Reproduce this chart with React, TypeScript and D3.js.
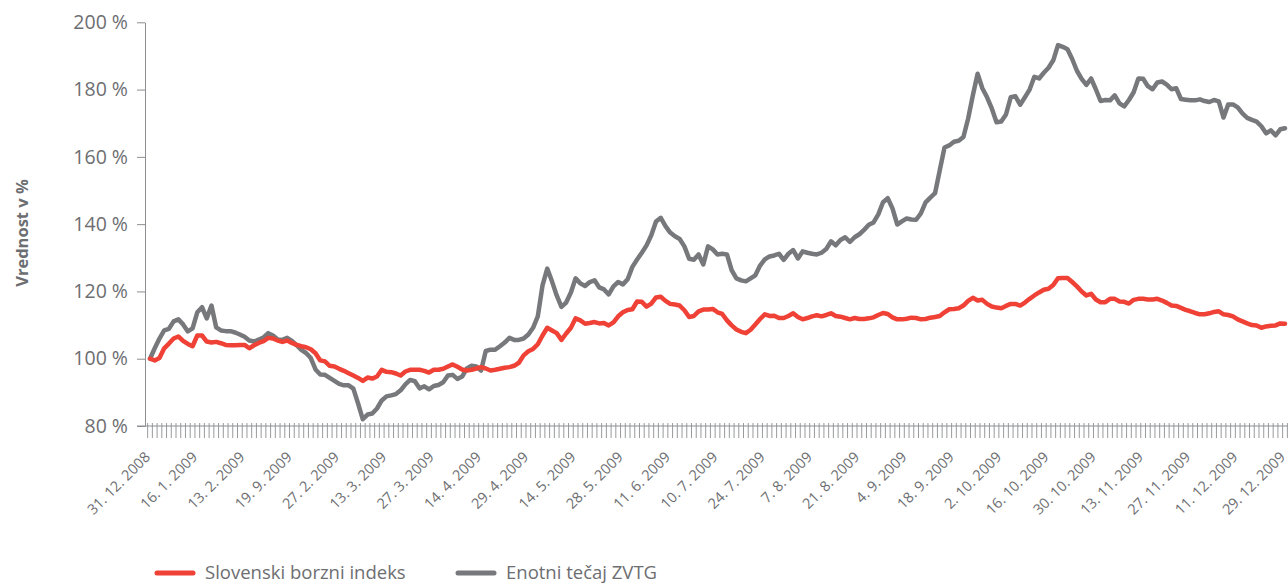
import React, { useRef, useEffect } from 'react';
import * as d3 from 'd3';

// x-axis labels, one every 10 trading days
const tickLabels = [
  '31. 12. 2008', '16. 1. 2009', '13. 2. 2009', '19. 9. 2009', '27. 2. 2009',
  '13. 3. 2009', '27. 3. 2009', '14. 4. 2009', '29. 4. 2009', '14. 5. 2009',
  '28. 5. 2009', '11. 6. 2009', '10. 7. 2009', '24. 7. 2009', '7. 8. 2009',
  '21. 8. 2009', '4. 9. 2009', '18. 9. 2009', '2. 10. 2009', '16. 10. 2009',
  '30. 10. 2009', '13. 11. 2009', '27. 11. 2009', '11. 12. 2009', '29. 12. 2009',
];
const labelEvery = 10;

// Slovenski borzni indeks (v %)
const sbiValues = [
  100, 99.5, 100.2, 103.1, 104.5, 106.0, 106.6, 105.3, 104.4, 103.7,
  106.9, 106.9, 105.1, 104.8, 105.0, 104.6, 104.1, 104.0, 104.0, 104.1,
  104.1, 103.1, 104.0, 104.7, 105.2, 106.2, 106.0, 105.4, 105.0, 105.4,
  104.7, 104.1, 103.7, 103.4, 102.8, 101.6, 99.5, 99.2, 97.9, 97.7,
  97.0, 96.4, 95.7, 95.0, 94.3, 93.4, 94.4, 94.1, 94.7, 96.7,
  96.1, 96.0, 95.6, 95.0, 96.2, 96.7, 96.7, 96.7, 96.4, 95.9,
  96.7, 96.7, 97.0, 97.7, 98.3, 97.6, 96.8, 96.5, 96.7, 97.1,
  97.5, 97.1, 96.5, 96.7, 97.0, 97.3, 97.5, 97.9, 98.8, 101.0,
  102.2, 102.9, 104.3, 106.9, 109.2, 108.4, 107.6, 105.6, 107.5, 109.2,
  112.0, 111.4, 110.4, 110.6, 110.9, 110.5, 110.6, 109.9, 110.8, 112.6,
  113.8, 114.5, 114.7, 117.0, 116.9, 115.5, 116.4, 118.2, 118.4, 117.2,
  116.3, 116.1, 115.8, 114.4, 112.4, 112.7, 114.1, 114.6, 114.6, 114.8,
  113.8, 113.3, 111.4, 109.9, 108.7, 108.0, 107.6, 108.6, 110.2, 111.8,
  113.2, 112.7, 112.8, 112.1, 112.1, 112.7, 113.5, 112.4, 111.7, 112.1,
  112.6, 112.9, 112.6, 113.0, 113.5, 112.7, 112.5, 112.1, 111.7, 112.1,
  111.8, 111.8, 112.0, 112.3, 113.0, 113.6, 113.3, 112.3, 111.7, 111.7,
  111.9, 112.2, 112.1, 111.7, 111.8, 112.2, 112.4, 112.7, 113.8, 114.7,
  114.8, 115.0, 115.8, 117.2, 118.1, 117.3, 117.5, 116.3, 115.5, 115.2,
  115.0, 115.7, 116.3, 116.3, 115.8, 116.7, 117.8, 118.8, 119.7, 120.5,
  120.8, 121.9, 123.9, 124.0, 124.0, 122.8, 121.5, 120.0, 118.8, 119.3,
  117.6, 116.8, 116.8, 117.8, 117.8, 117.0, 116.9, 116.4, 117.5, 117.8,
  117.8, 117.6, 117.6, 117.8, 117.3, 116.6, 115.8, 115.7, 115.1, 114.5,
  114.1, 113.6, 113.2, 113.2, 113.5, 113.9, 114.1, 113.2, 113.0, 112.6,
  111.7, 111.1, 110.5, 110.0, 109.9, 109.2, 109.6, 109.8, 109.9, 110.5, 110.4,
];

// Enotni tečaj ZVTG (v %)
const zvtgValues = [
  100, 103.1, 106.0, 108.4, 108.9, 111.1, 111.7, 110.2, 108.1, 109.0,
  113.8, 115.3, 112.0, 115.8, 109.3, 108.4, 108.2, 108.2, 107.8, 107.2,
  106.5, 105.4, 105.1, 105.7, 106.3, 107.6, 106.9, 105.7, 105.6, 106.2,
  105.3, 104.0, 102.6, 101.7, 100.2, 96.8, 95.3, 95.2, 94.3, 93.4,
  92.5, 92.1, 92.1, 91.1, 86.7, 82.0, 83.4, 83.7, 85.2, 87.6,
  88.8, 89.1, 89.5, 90.6, 92.4, 93.7, 93.3, 91.2, 91.8, 90.9,
  91.9, 92.2, 93.0, 95.0, 95.2, 94.0, 94.7, 97.1, 97.9, 97.7,
  96.5, 102.3, 102.7, 102.7, 103.7, 104.8, 106.2, 105.6, 105.6, 106.0,
  107.2, 109.2, 112.6, 121.8, 126.8, 123.0, 118.8, 115.4, 116.7, 119.7,
  123.9, 122.4, 121.6, 122.8, 123.3, 121.2, 120.6, 119.1, 121.5, 122.8,
  122.1, 123.6, 127.3, 129.5, 131.5, 133.7, 136.7, 140.8, 141.9, 139.4,
  137.5, 136.4, 135.6, 133.4, 129.7, 129.4, 131.0, 128.0, 133.4, 132.5,
  131.0, 131.2, 131.0, 126.3, 123.9, 123.3, 123.0, 123.9, 124.8, 127.7,
  129.5, 130.4, 130.7, 131.2, 129.4, 131.2, 132.3, 129.8, 131.9, 131.5,
  131.2, 131.0, 131.5, 132.6, 134.9, 133.7, 135.3, 136.1, 134.7, 136.1,
  137.0, 138.3, 139.8, 140.5, 142.9, 146.5, 147.7, 144.7, 139.9, 140.8,
  141.7, 141.4, 141.3, 143.2, 146.5, 147.9, 149.2, 156.0, 162.8, 163.4,
  164.5, 164.8, 165.9, 171.4, 178.3, 184.7, 180.4, 177.7, 174.4, 170.3,
  170.5, 172.6, 177.7, 178.0, 175.5, 177.7, 180.0, 183.8, 183.3, 185.0,
  186.5, 188.7, 193.2, 192.7, 192.0, 189.1, 185.6, 183.2, 181.4, 183.3,
  180.1, 176.6, 176.9, 176.8, 178.3, 175.9, 175.0, 176.9, 179.2, 183.3,
  183.2, 181.0, 180.1, 182.1, 182.4, 181.5, 180.1, 180.4, 177.2, 177.0,
  176.8, 176.8, 177.1, 176.6, 176.3, 176.9, 176.5, 171.7, 175.6, 175.6,
  174.7, 172.9, 171.6, 171.0, 170.5, 169.1, 167.0, 167.9, 166.4, 168.2, 168.5,
];

const yTicks = [80, 100, 120, 140, 160, 180, 200];

const seriesNames = ['Slovenski borzni indeks', 'Enotni tečaj ZVTG'];
const seriesColors = ['#ef4136', '#77787b'];

const W = 1288;
const H = 584;
const FONT = '"Open Sans", sans-serif';
const TEXT = '#6d6e71';

const App = () => {
  const svgRef = useRef<SVGSVGElement>(null);

  useEffect(() => {
    const svg = d3.select(svgRef.current);
    svg.selectAll('*').remove();

    const n = sbiValues.length;
    const x = d3.scaleLinear().domain([0, n - 1]).range([150, 1285]);
    const y = d3.scaleLinear().domain([80, 200]).range([426, 22.3]);
    const step = x(1) - x(0);

    // y axis
    const yAxis = d3.axisLeft(y)
      .tickValues(yTicks)
      .tickFormat(d => `${d} %`)
      .tickSize(8)
      .tickSizeOuter(0)
      .tickPadding(9);
    const gy = svg.append('g').attr('transform', 'translate(145,0)').call(yAxis);
    gy.select('.domain').attr('stroke', '#8d8e91');
    gy.selectAll('.tick line').attr('stroke', '#8d8e91');
    gy.selectAll('.tick text')
      .attr('fill', TEXT)
      .style('font-family', FONT)
      .style('font-size', '19.5px');

    // x axis line + a tick per trading day
    svg.append('line')
      .attr('x1', 137).attr('x2', W)
      .attr('y1', y(80)).attr('y2', y(80))
      .attr('stroke', '#8d8e91');

    svg.append('g')
      .selectAll('line')
      .data(d3.range(n + 1))
      .enter()
      .append('line')
      .attr('x1', i => x(i) - step / 2)
      .attr('x2', i => x(i) - step / 2)
      .attr('y1', y(80) - 3)
      .attr('y2', y(80) + 12)
      .attr('stroke', '#8d8e91')
      .attr('stroke-width', 0.9);

    svg.append('g')
      .selectAll('text')
      .data(tickLabels)
      .enter()
      .append('text')
      .attr('transform', (_, k) => `translate(${x(k * labelEvery) + 1},458) rotate(-45)`)
      .attr('text-anchor', 'end')
      .attr('fill', TEXT)
      .style('font-family', FONT)
      .style('font-size', '14.5px')
      .text(d => d);

    // y title
    svg.append('text')
      .attr('transform', 'translate(28,233) rotate(-90)')
      .attr('text-anchor', 'middle')
      .attr('fill', TEXT)
      .style('font-family', FONT)
      .style('font-size', '16.5px')
      .style('font-weight', 'bold')
      .text('Vrednost v %');

    // lines
    const line = d3.line<number>()
      .x((_, i) => x(i))
      .y(d => y(d));

    [zvtgValues, sbiValues].forEach((vals, k) => {
      svg.append('path')
        .datum(vals)
        .attr('d', line)
        .attr('fill', 'none')
        .attr('stroke', k === 0 ? seriesColors[1] : seriesColors[0])
        .attr('stroke-width', 4.5)
        .attr('stroke-linejoin', 'round')
        .attr('stroke-linecap', 'round');
    });

    // legend
    const legendX = [157, 458];
    seriesNames.forEach((name, k) => {
      const g = svg.append('g').attr('transform', `translate(${legendX[k]},573)`);
      g.append('line')
        .attr('x1', 0).attr('x2', 36)
        .attr('stroke', seriesColors[k])
        .attr('stroke-width', 5)
        .attr('stroke-linecap', 'round');
      g.append('text')
        .attr('x', 48).attr('y', 6)
        .attr('fill', TEXT)
        .style('font-family', FONT)
        .style('font-size', '18.5px')
        .text(name);
    });
  }, []);

  return (
    <svg
      ref={svgRef}
      width={W}
      height={H}
      style={{ position: 'absolute', left: 0, top: 0, background: '#fff' }}
    />
  );
};

export default App;
